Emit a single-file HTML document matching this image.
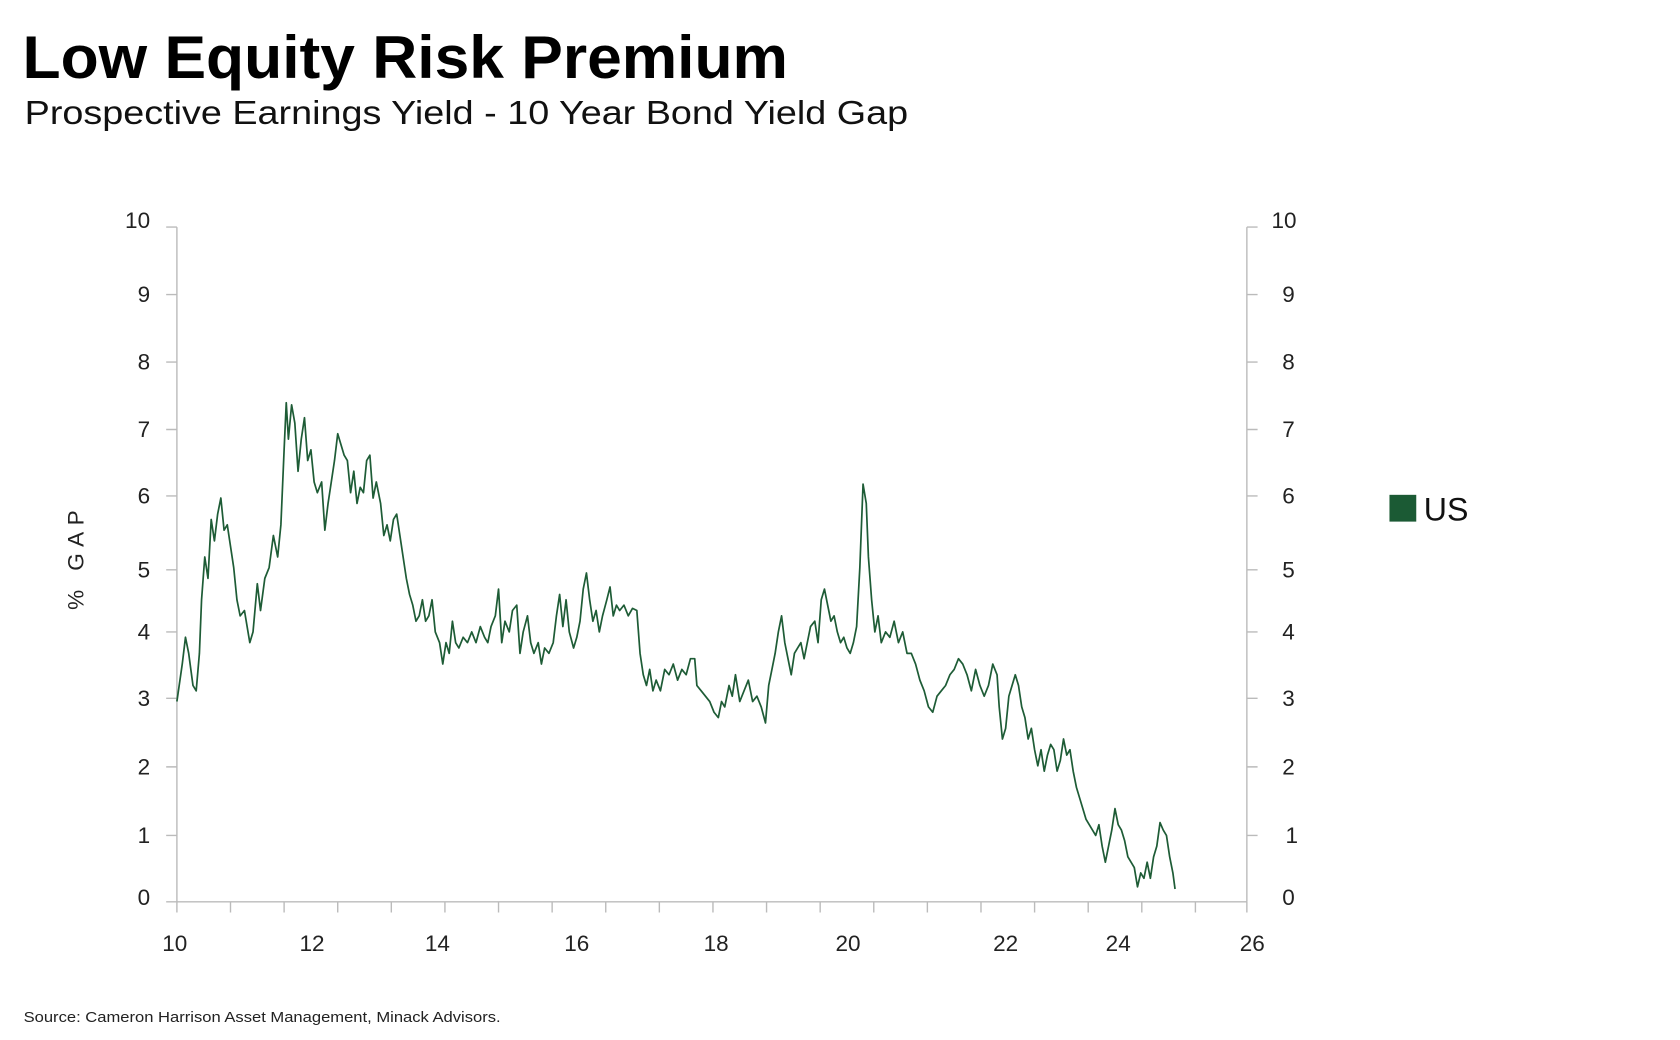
<!DOCTYPE html>
<html><head><meta charset="utf-8"><style>
html,body{margin:0;padding:0;background:#fff;width:1680px;height:1040px;overflow:hidden}
svg{display:block}
text{font-family:"Liberation Sans",sans-serif}
</style></head><body>
<svg width="1680" height="1040" viewBox="0 0 1567 971" preserveAspectRatio="none">
<text x="21" y="73" font-size="56" font-weight="bold" fill="#000" textLength="714" lengthAdjust="spacingAndGlyphs">Low Equity Risk Premium</text>
<text x="23" y="116" font-size="31" fill="#111" textLength="824" lengthAdjust="spacingAndGlyphs">Prospective Earnings Yield - 10 Year Bond Yield Gap</text>
<g stroke="#bbb" stroke-width="1.3" fill="none">
<line x1="165" y1="212" x2="165" y2="842"/>
<line x1="1163" y1="212" x2="1163" y2="842"/>
<line x1="155" y1="842" x2="1163" y2="842"/>
<path d="M155 212H165M155 275H165M155 338H165M155 401H165M155 463H165M155 532H165M155 590H165M155 652H165M155 716H165M155 780H165
M1163 212H1173M1163 275H1173M1163 338H1173M1163 401H1173M1163 463H1173M1163 532H1173M1163 590H1173M1163 652H1173M1163 716H1173M1163 780H1173"/>
<path d="M165 842v10M215 842v10M265 842v10M315 842v10M365 842v10M415 842v10M465 842v10M515 842v10M565 842v10M615 842v10M665 842v10M715 842v10M765 842v10M815 842v10M865 842v10M915 842v10M965 842v10M1015 842v10M1065 842v10M1115 842v10M1163 842v10"/>
</g>
<g font-size="21" fill="#222" text-anchor="end">
<text x="140" y="213">10</text><text x="140" y="282">9</text><text x="140" y="345">8</text><text x="140" y="408">7</text><text x="140" y="470">6</text><text x="140" y="539">5</text><text x="140" y="597">4</text><text x="140" y="659">3</text><text x="140" y="723">2</text><text x="140" y="787">1</text><text x="140" y="845">0</text>
</g>
<g font-size="21" fill="#222" text-anchor="start">
<text x="1186" y="213">10</text><text x="1196" y="282">9</text><text x="1196" y="345">8</text><text x="1196" y="408">7</text><text x="1196" y="470">6</text><text x="1196" y="539">5</text><text x="1196" y="597">4</text><text x="1196" y="659">3</text><text x="1196" y="723">2</text><text x="1199" y="787">1</text><text x="1196" y="845">0</text>
</g>
<g font-size="21" fill="#222" text-anchor="middle">
<text x="163" y="888">10</text><text x="291" y="888">12</text><text x="408" y="888">14</text><text x="538" y="888">16</text><text x="668" y="888">18</text><text x="791" y="888">20</text><text x="938" y="888">22</text><text x="1043" y="888">24</text><text x="1168" y="888">26</text>
</g>
<text transform="translate(78,520) rotate(-90)" font-size="21" fill="#222" text-anchor="middle" letter-spacing="6">% GAP</text>
<rect x="1296" y="462" width="25" height="25" fill="#1b5a34"/>
<text x="1328" y="486" font-size="30" fill="#111">US</text>
<text x="22" y="954" font-size="14" fill="#222" textLength="445" lengthAdjust="spacingAndGlyphs">Source: Cameron Harrison Asset Management, Minack Advisors.</text>
<polyline fill="none" stroke="#1e5c36" stroke-width="1.6" stroke-linejoin="round" points="165,655 170,620 173,595 176,610 180,640 183,645 186,610 188,560 191,520 194,540 197,485 200,505 203,480 206,465 209,495 212,490 215,510 218,530 221,560 224,575 228,570 233,600 236,590 240,545 243,570 247,540 251,530 255,500 259,520 262,490 265,420 267,376 269,410 272,378 275,395 278,440 281,410 284,390 287,430 290,420 293,450 296,460 300,450 303,495 306,470 309,450 312,430 315,405 318,415 321,425 324,430 327,460 330,440 333,470 336,455 339,460 342,430 345,425 348,465 351,450 355,470 358,500 361,490 364,505 367,485 370,480 373,500 376,520 379,540 382,555 385,565 388,580 391,575 394,560 397,580 400,575 403,560 406,590 410,600 413,620 416,600 419,610 422,580 425,600 428,605 432,595 436,600 440,590 444,600 448,585 452,595 455,600 458,585 462,575 465,550 468,600 471,580 475,590 478,570 482,565 485,610 488,590 492,575 495,600 498,610 502,600 505,620 508,605 512,610 516,600 519,575 522,555 525,585 528,560 531,590 535,605 538,595 541,580 544,550 547,535 550,560 553,580 556,570 559,590 562,575 566,560 569,548 572,575 575,565 578,570 582,565 586,575 590,568 594,570 597,610 600,630 603,640 606,625 609,645 612,635 616,645 620,625 624,630 628,620 632,635 636,625 640,630 644,615 648,615 650,640 654,645 658,650 662,655 666,665 670,670 673,655 676,660 680,640 683,650 686,630 690,655 694,645 698,635 702,655 706,650 710,660 714,675 717,640 720,625 723,610 726,590 729,575 732,600 735,615 738,630 741,610 744,605 747,600 750,615 753,600 756,585 760,580 763,600 766,560 769,550 772,565 775,580 778,575 781,590 784,600 787,595 790,605 793,610 796,600 799,585 802,530 805,452 808,470 810,520 813,560 816,590 819,575 822,600 826,590 830,595 834,580 838,600 842,590 846,610 850,610 854,620 858,635 862,645 866,660 870,665 874,650 878,645 882,640 886,630 890,625 894,615 898,620 902,630 906,645 910,625 914,640 918,650 922,640 926,620 930,630 932,660 935,690 938,680 941,650 944,640 947,630 950,640 953,660 956,670 959,690 962,680 965,700 968,715 971,700 974,720 977,705 980,695 983,700 986,720 989,710 992,690 995,705 998,700 1001,720 1004,735 1007,745 1010,755 1013,765 1016,770 1019,775 1022,780 1025,770 1028,790 1031,805 1034,790 1037,775 1040,755 1043,770 1046,775 1049,785 1052,800 1055,805 1058,810 1061,828 1064,815 1067,820 1070,805 1073,820 1076,800 1079,790 1082,768 1085,775 1088,780 1091,800 1094,815 1096,830"/>
</svg>
</body></html>
